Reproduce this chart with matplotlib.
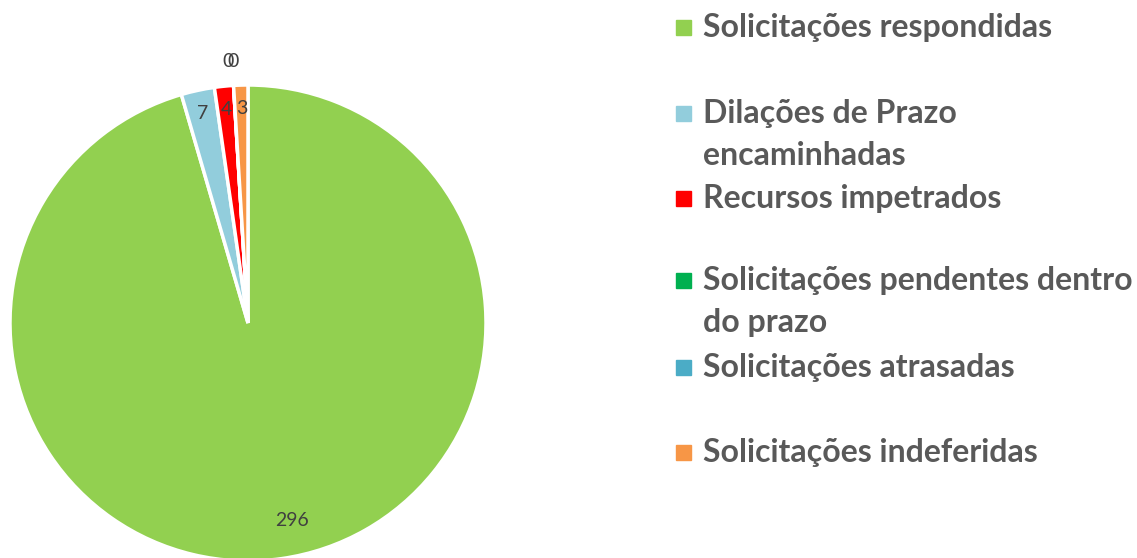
import numpy as np
import matplotlib.pyplot as plt

categories = ['Solicitações respondidas', 'Dilações de Prazo\nencaminhadas',
              'Recursos impetrados', 'Solicitações pendentes dentro\ndo prazo',
              'Solicitações atrasadas', 'Solicitações indeferidas']
values = [296, 7, 4, 0, 0, 3]
colors = ['#92D050', '#92CDDC', '#FF0000', '#00B050', '#4BACC6', '#F79646']

W, H = 1137, 558
fig = plt.figure(figsize=(W / 100, H / 100), dpi=100)
plt.rcParams['font.family'] = ['Lato', 'DejaVu Sans']

# pie axes placed in pixels: center (248, 323), radius 238
cx, cy, r = 248, 323, 238
ax = fig.add_axes([(cx - r) / W, (H - cy - r) / H, 2 * r / W, 2 * r / H])
wedges, _ = ax.pie(values, colors=colors, startangle=90, counterclock=False,
                   radius=1, wedgeprops=dict(edgecolor='white', linewidth=2.5))
ax.set_xlim(-1, 1)
ax.set_ylim(-1, 1)
ax.set_aspect('equal')
ax.axis('off')
for w in wedges:
    w.set_clip_on(False)

# data labels
zero_count = 0
for w, v in zip(wedges, values):
    ang = np.deg2rad((w.theta1 + w.theta2) / 2)
    if v == 296:
        x, y = 0.185, -0.83
    elif v == 0:
        x, y = 1.1 * np.cos(ang) - 0.015 + 0.017 * zero_count, 1.1 * np.sin(ang)
        zero_count += 1
    else:
        x, y = 0.9 * np.cos(ang), 0.9 * np.sin(ang)
    ax.text(x, y, str(v), ha='center', va='center', fontsize=14, color='#404040')

# legend drawn by hand (baselines of first lines, in pixels from the top)
baselines = [37, 123, 208, 290, 377, 462]
line_gap = 42
for lab, col, yb in zip(categories, colors, baselines):
    fig.patches.append(plt.Rectangle((676 / W, (H - yb + 10 - 7.5) / H), 15 / W, 15 / H,
                                     transform=fig.transFigure, color=col))
    for i, part in enumerate(lab.split('\n')):
        fig.text(703 / W, (H - yb - i * line_gap) / H, part, ha='left', va='baseline',
                 fontsize=23, fontweight='bold', color='#595959',
                 transform=fig.transFigure)

fig.savefig('out.png', dpi=100)
